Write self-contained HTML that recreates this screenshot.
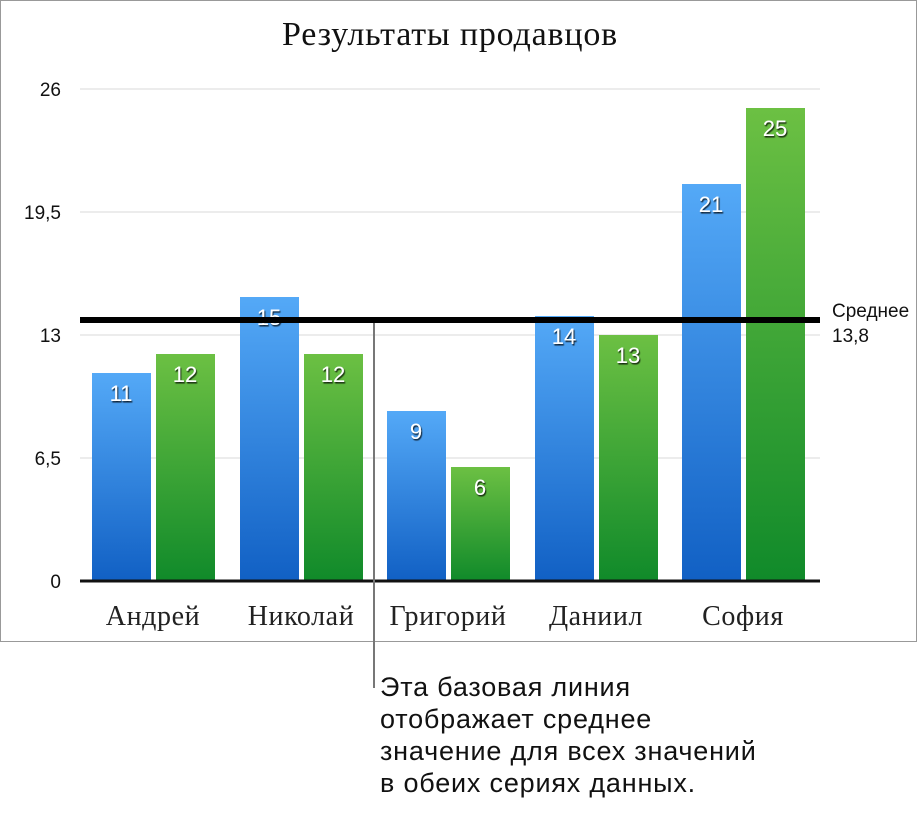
<!DOCTYPE html>
<html><head><meta charset="utf-8"><style>
html,body{margin:0;padding:0;background:#fff;}
svg{display:block;}
.v{font-family:"Liberation Sans",sans-serif;font-size:22px;fill:#fff;text-anchor:middle;}
.c{font-family:"Liberation Serif",serif;font-size:28px;fill:#222;text-anchor:middle;letter-spacing:0.6px;}
.y{font-family:"Liberation Sans",sans-serif;font-size:19px;fill:#111;text-anchor:end;}
.n{font-family:"Liberation Sans",sans-serif;font-size:27px;fill:#111;letter-spacing:0.8px;}
</style></head><body>
<svg width="918" height="817" viewBox="0 0 918 817" xmlns="http://www.w3.org/2000/svg">
<defs>
<linearGradient id="b" x1="0" y1="0" x2="0" y2="1"><stop offset="0" stop-color="#54a9f7"/><stop offset="1" stop-color="#1160c4"/></linearGradient>
<linearGradient id="g" x1="0" y1="0" x2="0" y2="1"><stop offset="0" stop-color="#6cc043"/><stop offset="1" stop-color="#108a2a"/></linearGradient>
<filter id="s"><feDropShadow dx="1" dy="1.5" stdDeviation="0.6" flood-color="#000" flood-opacity="0.8"/></filter>
</defs>
<rect x="0.5" y="0.5" width="916" height="641" fill="#fff" stroke="#999"/>
<text x="450" y="45" font-family="Liberation Serif,serif" font-size="34" fill="#111" text-anchor="middle" letter-spacing="0.8">Результаты продавцов</text>
<g stroke="#d8d8d8" stroke-width="1">
<line x1="80" y1="89" x2="820" y2="89"/><line x1="80" y1="212" x2="820" y2="212"/>
<line x1="80" y1="335" x2="820" y2="335"/><line x1="80" y1="458" x2="820" y2="458"/>
</g>
<text class="y" x="61" y="96">26</text>
<text class="y" x="61" y="219">19,5</text>
<text class="y" x="61" y="342">13</text>
<text class="y" x="61" y="465">6,5</text>
<text class="y" x="61" y="588">0</text>
<g>
<rect x="92" y="373" width="59" height="208" fill="url(#b)"/>
<rect x="156" y="354" width="59" height="227" fill="url(#g)"/>
<rect x="240" y="297" width="59" height="284" fill="url(#b)"/>
<rect x="304" y="354" width="59" height="227" fill="url(#g)"/>
<rect x="387" y="411" width="59" height="170" fill="url(#b)"/>
<rect x="451" y="467" width="59" height="114" fill="url(#g)"/>
<rect x="535" y="316" width="59" height="265" fill="url(#b)"/>
<rect x="599" y="335" width="59" height="246" fill="url(#g)"/>
<rect x="682" y="184" width="59" height="397" fill="url(#b)"/>
<rect x="746" y="108" width="59" height="473" fill="url(#g)"/>
</g>
<g filter="url(#s)">
<text class="v" x="121" y="401">11</text>
<text class="v" x="185" y="382">12</text>
<text class="v" x="269" y="325">15</text>
<text class="v" x="333" y="382">12</text>
<text class="v" x="416" y="439">9</text>
<text class="v" x="480" y="495">6</text>
<text class="v" x="564" y="344">14</text>
<text class="v" x="628" y="363">13</text>
<text class="v" x="711" y="212">21</text>
<text class="v" x="775" y="136">25</text>
</g>
<line x1="80" y1="581" x2="820" y2="581" stroke="#111" stroke-width="3"/>
<line x1="80" y1="320" x2="820" y2="320" stroke="#000" stroke-width="6"/>
<text x="832" y="317" font-family="Liberation Sans,sans-serif" font-size="19" fill="#111">Среднее</text>
<text x="832" y="342" font-family="Liberation Sans,sans-serif" font-size="19" fill="#111">13,8</text>
<text class="c" x="153" y="625">Андрей</text>
<text class="c" x="301" y="625">Николай</text>
<text class="c" x="448" y="625">Григорий</text>
<text class="c" x="596" y="625">Даниил</text>
<text class="c" x="743" y="625">София</text>
<line x1="374" y1="323" x2="374" y2="688" stroke="#777" stroke-width="2"/>
<text class="n" x="380" y="696">Эта базовая линия</text>
<text class="n" x="380" y="728">отображает среднее</text>
<text class="n" x="380" y="760">значение для всех значений</text>
<text class="n" x="380" y="792">в обеих сериях данных.</text>
</svg>
</body></html>
